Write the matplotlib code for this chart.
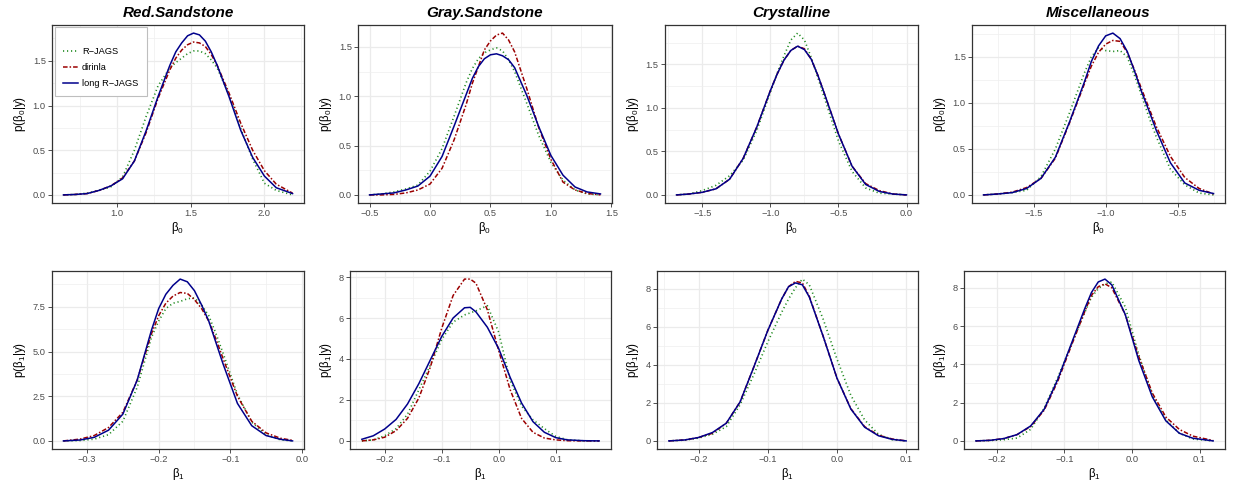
import matplotlib
matplotlib.use('Agg')
import matplotlib.pyplot as plt
from matplotlib.ticker import FixedLocator, AutoMinorLocator

plt.rcParams['font.family'] = 'Liberation Sans'
plt.rcParams['mathtext.fontset'] = 'custom'
plt.rcParams['mathtext.rm'] = 'Liberation Sans'
plt.rcParams['mathtext.it'] = 'Liberation Sans:italic'

titles = ['Red.Sandstone', 'Gray.Sandstone', 'Crystalline', 'Miscellaneous']
series_names = ['R\u2212JAGS', 'dirinla', 'long R\u2212JAGS']

# ---- beta0 (top row) ----
red_b0_x = [0.64, 0.72, 0.80, 0.88, 0.96, 1.04, 1.12, 1.20, 1.28, 1.36, 1.40, 1.44, 1.48, 1.52, 1.56, 1.60, 1.64, 1.68, 1.76, 1.84, 1.92, 2.00, 2.08, 2.19]
red_b0_rjags = [0.0, 0.005, 0.02, 0.05, 0.09, 0.20, 0.50, 0.88, 1.22, 1.42, 1.48, 1.53, 1.58, 1.61, 1.61, 1.58, 1.51, 1.42, 1.12, 0.74, 0.40, 0.13, 0.05, 0.0]
red_b0_dirinla = [0.0, 0.005, 0.015, 0.05, 0.10, 0.19, 0.38, 0.70, 1.08, 1.40, 1.53, 1.62, 1.68, 1.71, 1.70, 1.66, 1.57, 1.45, 1.14, 0.80, 0.50, 0.27, 0.12, 0.02]
red_b0_long = [0.0, 0.005, 0.015, 0.05, 0.10, 0.18, 0.38, 0.72, 1.10, 1.45, 1.60, 1.70, 1.78, 1.81, 1.79, 1.72, 1.60, 1.45, 1.10, 0.72, 0.42, 0.21, 0.08, 0.015]

gray_b0_x = [-0.50, -0.40, -0.30, -0.20, -0.10, 0.0, 0.10, 0.20, 0.30, 0.35, 0.40, 0.45, 0.50, 0.55, 0.60, 0.65, 0.70, 0.80, 0.90, 1.00, 1.10, 1.20, 1.30, 1.41]
gray_b0_rjags = [0.0, 0.01, 0.03, 0.06, 0.10, 0.24, 0.47, 0.80, 1.14, 1.28, 1.38, 1.44, 1.47, 1.49, 1.46, 1.37, 1.25, 0.93, 0.60, 0.33, 0.15, 0.05, 0.01, 0.0]
gray_b0_dirinla = [0.0, 0.0, 0.005, 0.02, 0.05, 0.11, 0.27, 0.56, 0.92, 1.13, 1.30, 1.47, 1.56, 1.62, 1.64, 1.57, 1.45, 1.08, 0.68, 0.36, 0.13, 0.05, 0.015, 0.0]
gray_b0_long = [0.0, 0.01, 0.02, 0.05, 0.09, 0.19, 0.39, 0.70, 1.02, 1.18, 1.30, 1.38, 1.42, 1.43, 1.41, 1.37, 1.29, 1.01, 0.69, 0.40, 0.20, 0.08, 0.03, 0.01]

crys_b0_x = [-1.69, -1.60, -1.50, -1.40, -1.30, -1.20, -1.10, -1.00, -0.95, -0.90, -0.85, -0.80, -0.75, -0.70, -0.65, -0.60, -0.50, -0.40, -0.30, -0.20, -0.10, 0.0]
crys_b0_rjags = [0.0, 0.01, 0.05, 0.11, 0.22, 0.40, 0.74, 1.18, 1.40, 1.60, 1.78, 1.86, 1.78, 1.58, 1.34, 1.10, 0.62, 0.27, 0.08, 0.02, 0.01, 0.0]
crys_b0_dirinla = [0.0, 0.01, 0.03, 0.07, 0.18, 0.42, 0.78, 1.20, 1.39, 1.55, 1.66, 1.71, 1.68, 1.56, 1.37, 1.15, 0.70, 0.33, 0.13, 0.05, 0.01, 0.0]
crys_b0_long = [0.0, 0.01, 0.03, 0.07, 0.18, 0.42, 0.78, 1.20, 1.39, 1.55, 1.66, 1.71, 1.67, 1.56, 1.37, 1.15, 0.70, 0.33, 0.12, 0.04, 0.01, 0.0]

misc_b0_x = [-1.85, -1.75, -1.65, -1.55, -1.45, -1.35, -1.25, -1.15, -1.10, -1.05, -1.00, -0.95, -0.90, -0.85, -0.80, -0.75, -0.70, -0.65, -0.55, -0.45, -0.35, -0.25]
misc_b0_rjags = [0.0, 0.01, 0.025, 0.05, 0.20, 0.50, 0.90, 1.32, 1.50, 1.60, 1.57, 1.56, 1.57, 1.50, 1.30, 1.08, 0.85, 0.64, 0.28, 0.11, 0.02, 0.0]
misc_b0_dirinla = [0.0, 0.01, 0.03, 0.08, 0.18, 0.40, 0.79, 1.20, 1.40, 1.55, 1.64, 1.68, 1.67, 1.55, 1.36, 1.15, 0.95, 0.75, 0.42, 0.19, 0.07, 0.01]
misc_b0_long = [0.0, 0.01, 0.025, 0.07, 0.18, 0.41, 0.80, 1.22, 1.45, 1.62, 1.73, 1.76, 1.70, 1.56, 1.35, 1.12, 0.92, 0.71, 0.35, 0.13, 0.05, 0.015]

# ---- beta1 (bottom row) ----
red_b1_x = [-0.333, -0.31, -0.29, -0.27, -0.25, -0.23, -0.21, -0.20, -0.19, -0.18, -0.17, -0.16, -0.15, -0.14, -0.13, -0.12, -0.11, -0.09, -0.07, -0.05, -0.03, -0.013]
red_b1_rjags = [0.0, 0.02, 0.10, 0.35, 1.1, 3.0, 5.8, 6.7, 7.4, 7.7, 7.8, 7.95, 8.0, 7.6, 7.0, 6.0, 4.9, 2.6, 1.05, 0.35, 0.06, 0.0]
red_b1_dirinla = [0.0, 0.10, 0.30, 0.75, 1.6, 3.4, 6.0, 7.0, 7.7, 8.1, 8.3, 8.25, 7.9, 7.4, 6.7, 5.7, 4.6, 2.5, 1.1, 0.45, 0.15, 0.03]
red_b1_long = [0.0, 0.05, 0.20, 0.60, 1.5, 3.4, 6.2, 7.4, 8.2, 8.7, 9.05, 8.9, 8.4, 7.6, 6.7, 5.5, 4.3, 2.1, 0.85, 0.30, 0.09, 0.0]

gray_b1_x = [-0.24, -0.22, -0.20, -0.18, -0.16, -0.14, -0.12, -0.10, -0.08, -0.06, -0.05, -0.04, -0.02, 0.0, 0.02, 0.04, 0.06, 0.08, 0.10, 0.12, 0.15, 0.176]
gray_b1_rjags = [0.0, 0.05, 0.25, 0.60, 1.3, 2.5, 3.7, 4.95, 5.8, 6.15, 6.25, 6.35, 6.6, 5.3, 2.95, 1.7, 1.03, 0.60, 0.22, 0.06, 0.0, 0.0]
gray_b1_dirinla = [0.0, 0.05, 0.18, 0.50, 1.1, 2.1, 3.6, 5.5, 7.1, 7.9, 7.9, 7.7, 6.4, 4.4, 2.5, 1.1, 0.42, 0.14, 0.05, 0.01, 0.0, 0.0]
gray_b1_long = [0.08, 0.25, 0.58, 1.05, 1.8, 2.8, 3.95, 5.1, 6.0, 6.5, 6.52, 6.3, 5.55, 4.5, 3.1, 1.85, 0.94, 0.42, 0.16, 0.05, 0.01, 0.0]

crys_b1_x = [-0.243, -0.22, -0.20, -0.18, -0.16, -0.14, -0.12, -0.10, -0.08, -0.07, -0.06, -0.05, -0.04, -0.02, 0.0, 0.02, 0.04, 0.06, 0.08, 0.10]
crys_b1_rjags = [0.0, 0.04, 0.15, 0.35, 0.75, 1.9, 3.5, 5.2, 6.75, 7.45, 8.05, 8.5, 8.2, 6.4, 4.3, 2.4, 1.1, 0.35, 0.06, 0.0]
crys_b1_dirinla = [0.0, 0.05, 0.18, 0.40, 0.93, 2.05, 3.9, 5.8, 7.45, 8.1, 8.38, 8.3, 7.6, 5.5, 3.3, 1.70, 0.75, 0.30, 0.10, 0.0]
crys_b1_long = [0.0, 0.05, 0.18, 0.44, 0.93, 2.05, 3.9, 5.8, 7.45, 8.1, 8.3, 8.2, 7.56, 5.5, 3.3, 1.68, 0.72, 0.27, 0.08, 0.0]

misc_b1_x = [-0.231, -0.21, -0.19, -0.17, -0.15, -0.13, -0.11, -0.09, -0.07, -0.06, -0.05, -0.04, -0.03, -0.01, 0.01, 0.03, 0.05, 0.07, 0.09, 0.12]
misc_b1_rjags = [0.0, 0.02, 0.06, 0.15, 0.60, 1.7, 3.3, 5.0, 6.7, 7.5, 7.95, 8.2, 8.3, 7.0, 4.5, 2.4, 1.1, 0.40, 0.10, 0.0]
misc_b1_dirinla = [0.0, 0.03, 0.12, 0.33, 0.75, 1.6, 3.1, 4.95, 6.75, 7.6, 8.05, 8.2, 8.0, 6.6, 4.4, 2.5, 1.25, 0.60, 0.25, 0.02]
misc_b1_long = [0.0, 0.03, 0.12, 0.33, 0.78, 1.65, 3.2, 5.05, 6.9, 7.75, 8.3, 8.45, 8.15, 6.6, 4.2, 2.3, 1.05, 0.40, 0.14, 0.0]

# tick breaks as shown on each panel
b0_xticks = [[1.0, 1.5, 2.0], [-0.5, 0.0, 0.5, 1.0, 1.5], [-1.5, -1.0, -0.5, 0.0], [-1.5, -1.0, -0.5]]
b0_yticks = [[0.0, 0.5, 1.0, 1.5]] * 4
b1_xticks = [[-0.3, -0.2, -0.1, 0.0], [-0.2, -0.1, 0.0, 0.1], [-0.2, -0.1, 0.0, 0.1], [-0.2, -0.1, 0.0, 0.1]]
b1_yticks = [[0.0, 2.5, 5.0, 7.5], [0, 2, 4, 6, 8], [0, 2, 4, 6, 8], [0, 2, 4, 6, 8]]

top_data = [
    (red_b0_x, red_b0_rjags, red_b0_dirinla, red_b0_long),
    (gray_b0_x, gray_b0_rjags, gray_b0_dirinla, gray_b0_long),
    (crys_b0_x, crys_b0_rjags, crys_b0_dirinla, crys_b0_long),
    (misc_b0_x, misc_b0_rjags, misc_b0_dirinla, misc_b0_long),
]
bottom_data = [
    (red_b1_x, red_b1_rjags, red_b1_dirinla, red_b1_long),
    (gray_b1_x, gray_b1_rjags, gray_b1_dirinla, gray_b1_long),
    (crys_b1_x, crys_b1_rjags, crys_b1_dirinla, crys_b1_long),
    (misc_b1_x, misc_b1_rjags, misc_b1_dirinla, misc_b1_long),
]

W, H = 1233, 484
fig = plt.figure(figsize=(W / 100, H / 100), dpi=100)

# panel boxes in pixels: (left, right, top, bottom)
top_boxes = [(52, 304, 25, 203), (358, 612, 25, 203), (665, 918, 25, 203), (972, 1225, 25, 203)]
bottom_boxes = [(52, 304, 271, 449), (350, 611, 271, 449), (657, 918, 271, 449), (964, 1225, 271, 449)]

colors = ['#228B22', '#9B0000', '#00008B']
styles = [(0, (0.7, 1.7)), (0, (3, 1.3, 1, 1.3)), '-']
widths = [1.2, 1.1, 1.1]


def fmt_ticks(ticks):
    if all(float(t).is_integer() for t in ticks) and max(ticks) > 2:
        return ['%d' % t for t in ticks]
    return ['%.1f' % t for t in ticks]


def make_panel(box, data, xticks, yticks, xlab, ylab):
    l, r, t, b = box
    ax = fig.add_axes([l / W, 1 - b / H, (r - l) / W, (b - t) / H])
    x = data[0]
    lines = []
    for k in range(3):
        ln, = ax.plot(x, data[k + 1], color=colors[k], linestyle=styles[k], lw=widths[k],
                      label=series_names[k], solid_joinstyle='round', dash_joinstyle='round')
        lines.append(ln)
    ax.margins(x=0.05, y=0.05)
    ax.xaxis.set_major_locator(FixedLocator(xticks))
    ax.yaxis.set_major_locator(FixedLocator(yticks))
    ax.set_xticklabels([s.replace('-', '\u2212') for s in fmt_ticks(xticks)])
    ax.set_yticklabels(fmt_ticks(yticks))
    ax.xaxis.set_minor_locator(AutoMinorLocator(2))
    ax.yaxis.set_minor_locator(AutoMinorLocator(2))
    ax.grid(which='major', color='#EBEBEB', lw=0.9)
    ax.grid(which='minor', color='#EFEFEF', lw=0.5)
    ax.set_axisbelow(True)
    ax.tick_params(which='major', length=3, width=0.6, color='#333333', labelsize=6.7, labelcolor='#4D4D4D', pad=1.5)
    ax.tick_params(which='minor', length=0)
    for s in ax.spines.values():
        s.set_color('#333333')
        s.set_linewidth(0.9)
    ax.set_xlabel(xlab, fontsize=8.4, labelpad=1)
    ax.set_ylabel(ylab, fontsize=8.4, labelpad=3)
    return ax, lines


for i in range(4):
    ax, lines = make_panel(top_boxes[i], top_data[i], b0_xticks[i], b0_yticks[i],
                           r'$\mathregular{\beta_0}$', r'$\mathregular{p(\beta_0|y)}$')
    ax.set_title(titles[i], fontsize=11, fontweight='bold', fontstyle='italic', pad=6)
    if i == 0:
        leg = ax.legend(loc='upper left', bbox_to_anchor=(0.012, 0.99), borderaxespad=0,
                        title=' ', title_fontsize=3.5,
                        fontsize=6.7, frameon=True, fancybox=False, framealpha=1,
                        edgecolor='#BEBEBE', handlelength=1.6, handletextpad=0.4,
                        labelspacing=0.75, borderpad=0.9)
        leg.get_frame().set_linewidth(0.8)

for i in range(4):
    make_panel(bottom_boxes[i], bottom_data[i], b1_xticks[i], b1_yticks[i],
               r'$\mathregular{\beta_1}$', r'$\mathregular{p(\beta_1|y)}$')

fig.savefig('out.png', dpi=100)
